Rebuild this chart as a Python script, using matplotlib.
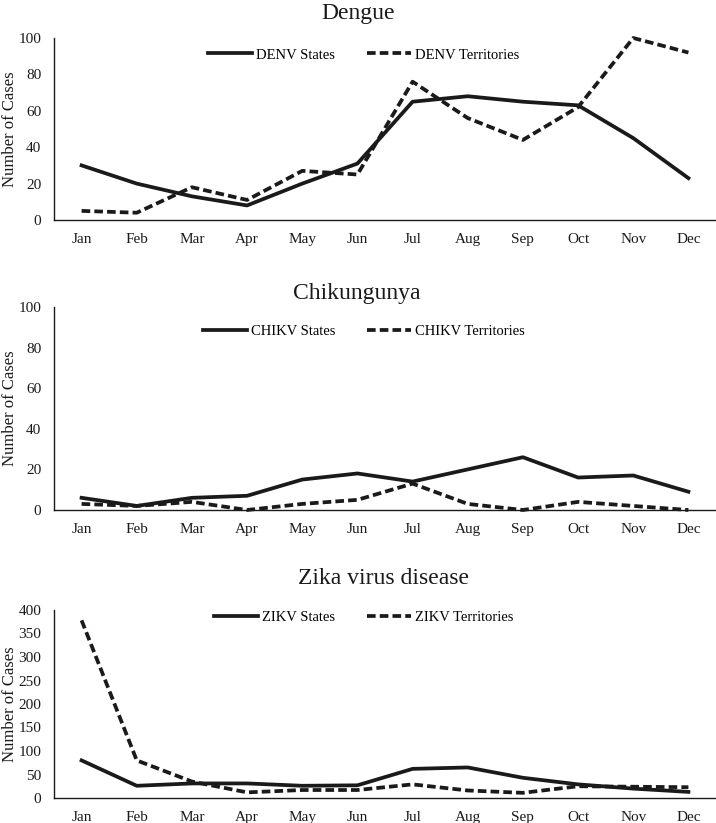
import matplotlib
matplotlib.use("Agg")
import matplotlib.pyplot as plt

plt.rcParams['font.family'] = ['Liberation Serif', 'DejaVu Serif']

# Monthly case counts
months = ["Jan", "Feb", "Mar", "Apr", "May", "Jun",
          "Jul", "Aug", "Sep", "Oct", "Nov", "Dec"]

denv_states = [30, 20, 13, 8, 20, 31, 65, 68, 65, 63, 45, 23]
denv_territories = [5, 4, 18, 11, 27, 25, 76, 56, 44, 62, 100, 92]

chikv_states = [6, 2, 6, 7, 15, 18, 14, 20, 26, 16, 17, 9]
chikv_territories = [3, 2, 4, 0, 3, 5, 13, 3, 0, 4, 2, 0]

zikv_states = [80, 26, 31, 31, 26, 27, 62, 65, 43, 29, 20, 13]
zikv_territories = [378, 80, 35, 12, 17, 17, 29, 16, 11, 25, 24, 23]

W, H = 716, 823

# panel specs: title, title pos (px), axes top/bottom (px), ymax, ystep, legend y (px), series
panels = [
    ("Dengue", (358, 13), 38, 220, 100, 20, 55, "DENV", denv_states, denv_territories),
    ("Chikungunya", (357, 294), 307, 510, 100, 20, 331, "CHIKV", chikv_states, chikv_territories),
    ("Zika virus disease", (384, 578), 610, 798, 400, 50, 617, "ZIKV", zikv_states, zikv_territories),
]

fig = plt.figure(figsize=(W / 100, H / 100), dpi=100)
left = 54

for title, tpos, top, bottom, ymax, ystep, legy, abbr, states, terr in panels:
    ax = fig.add_axes([left / W, 1 - bottom / H, (W - left) / W, (bottom - top) / H])
    x = range(len(months))
    ax.plot(x, states, color="#1a1a1a", lw=2.7, solid_joinstyle="round",
            label=f"{abbr} States", clip_on=False)
    ax.plot(x, terr, color="#1a1a1a", lw=2.7, dashes=(2.3, 1.1),
            label=f"{abbr} Territories", clip_on=False)
    ax.set_xlim(-0.5, len(months) - 0.5)
    ax.set_ylim(0, ymax)
    ax.set_yticks(range(0, ymax + 1, ystep))
    ax.set_xticks(list(x))
    ax.set_xticklabels(months)
    ax.tick_params(axis="both", length=0, labelsize=11, colors="#1a1a1a")
    ax.tick_params(axis="x", pad=9.5)
    ax.tick_params(axis="y", pad=9)
    for s in ("top", "right"):
        ax.spines[s].set_visible(False)
    for s in ("left", "bottom"):
        ax.spines[s].set_linewidth(1.0)
        ax.spines[s].set_color("#1a1a1a")
    ax.set_ylabel("Number of Cases", fontsize=12, color="#1a1a1a")
    ax.yaxis.set_label_coords(-0.055, 0.5)
    fig.text(tpos[0] / W, 1 - tpos[1] / H, title, fontsize=17,
             ha="center", va="center", color="#1a1a1a")
    ax.legend(loc="center", bbox_to_anchor=(364 / W, 1 - legy / H),
              bbox_transform=fig.transFigure, ncol=2, frameon=False,
              fontsize=10.5, handlelength=3.0, handletextpad=0.3,
              columnspacing=2.2, borderpad=0)

fig.savefig("out.png", dpi=100)
